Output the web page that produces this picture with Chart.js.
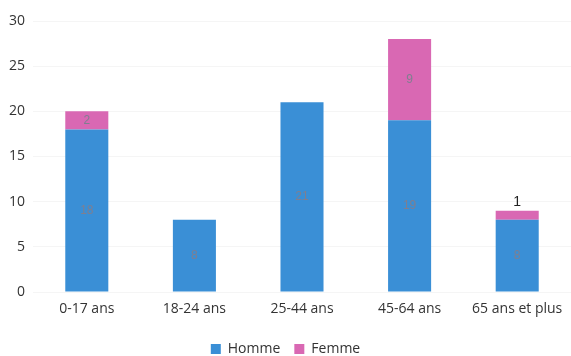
<!DOCTYPE html>
<html>
<head>
<meta charset="utf-8">
<script src="https://cdn.jsdelivr.net/npm/chart.js@4"></script>
<style>
  html, body { margin: 0; padding: 0; background: #fff; }
  #cadre { width: 571px; height: 356px; }
</style>
</head>
<body>
<div id="cadre"><canvas id="graphique"></canvas></div>
<script>
const categories = ['0-17 ans', '18-24 ans', '25-44 ans', '45-64 ans', '65 ans et plus'];
const hommes = [18, 8, 21, 19, 8];
const femmes = [2, 0, 0, 9, 1];
const graduations = [0, 5, 10, 15, 20, 25, 30];

const BLEU = '#3a8fd6';
const ROSE = '#d968b3';

// étiquettes de valeur dans les barres
const etiquettesValeurs = {
  id: 'etiquettesValeurs',
  afterDatasetsDraw(chart) {
    const ctx = chart.ctx;
    ctx.save();
    ctx.textAlign = 'center';
    ctx.textBaseline = 'middle';
    chart.data.datasets.forEach((ds, i) => {
      const meta = chart.getDatasetMeta(i);
      meta.data.forEach((barre, j) => {
        const v = ds.data[j];
        if (!v) return;
        const hauteur = barre.base - barre.y;
        if (hauteur < 14) {
          ctx.fillStyle = '#222';
          ctx.font = '14px "Liberation Sans", Arial, sans-serif';
          ctx.fillText(String(v), barre.x, barre.y - 9);
        } else {
          ctx.fillStyle = '#7f7f90';
          ctx.font = '12px "Liberation Sans", Arial, sans-serif';
          ctx.fillText(String(v), barre.x, (barre.y + barre.base) / 2);
        }
      });
    });
    ctx.restore();
  }
};

new Chart(document.getElementById('graphique'), {
  type: 'bar',
  data: {
    labels: categories,
    datasets: [
      { label: 'Homme', data: hommes, backgroundColor: BLEU },
      { label: 'Femme', data: femmes, backgroundColor: ROSE }
    ]
  },
  options: {
    responsive: true,
    maintainAspectRatio: false,
    animation: false,
    layout: { padding: { top: 21, right: 0, left: 0, bottom: -10 } },
    datasets: { bar: { barPercentage: 0.8, categoryPercentage: 0.5 } },
    scales: {
      x: {
        stacked: true,
        grid: { display: false },
        border: { display: false },
        ticks: { color: '#333', font: { size: 14, family: '"Open Sans", sans-serif' }, maxRotation: 0, padding: 1 },
        afterFit: axe => { axe.height = 36; }
      },
      y: {
        stacked: true,
        min: 0,
        max: 30,
        afterBuildTicks: axe => { axe.ticks = graduations.map(v => ({ value: v })); },
        grid: { color: '#f5f5f5', drawTicks: false },
        border: { display: false },
        ticks: { color: '#333', font: { size: 14, family: '"Open Sans", sans-serif' }, padding: 8 },
        afterFit: axe => { axe.width = 33; }
      }
    },
    plugins: {
      legend: {
        position: 'bottom',
        labels: {
          boxWidth: 10,
          boxHeight: 10,
          padding: 14,
          color: '#333',
          font: { size: 14, family: '"Open Sans", sans-serif' }
        }
      },
      tooltip: { enabled: false }
    }
  },
  plugins: [etiquettesValeurs]
});
</script>
</body>
</html>
